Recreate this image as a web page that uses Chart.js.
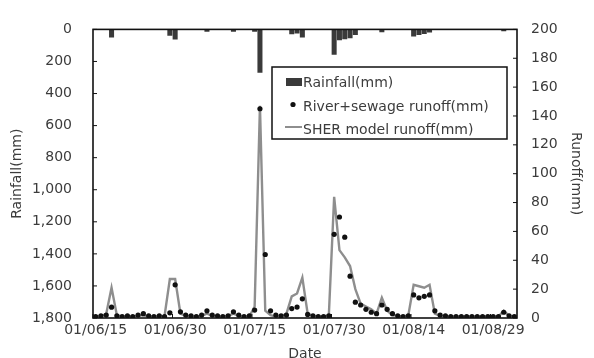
<!DOCTYPE html>
<html><head><meta charset="utf-8">
<script src="https://cdn.jsdelivr.net/npm/chart.js@4"></script>
<style>html,body{margin:0;padding:0;background:#fff;overflow:hidden}#wrap{width:594px;height:358px}</style>
</head><body><div id="wrap"><canvas id="c" width="594" height="358"></canvas></div>
<script>
const dates = [
 '01/06/15','01/06/16','01/06/17','01/06/18','01/06/19','01/06/20','01/06/21','01/06/22','01/06/23','01/06/24',
 '01/06/25','01/06/26','01/06/27','01/06/28','01/06/29','01/06/30','01/07/01','01/07/02','01/07/03','01/07/04',
 '01/07/05','01/07/06','01/07/07','01/07/08','01/07/09','01/07/10','01/07/11','01/07/12','01/07/13','01/07/14',
 '01/07/15','01/07/16','01/07/17','01/07/18','01/07/19','01/07/20','01/07/21','01/07/22','01/07/23','01/07/24',
 '01/07/25','01/07/26','01/07/27','01/07/28','01/07/29','01/07/30','01/07/31','01/08/01','01/08/02','01/08/03',
 '01/08/04','01/08/05','01/08/06','01/08/07','01/08/08','01/08/09','01/08/10','01/08/11','01/08/12','01/08/13',
 '01/08/14','01/08/15','01/08/16','01/08/17','01/08/18','01/08/19','01/08/20','01/08/21','01/08/22','01/08/23',
 '01/08/24','01/08/25','01/08/26','01/08/27','01/08/28','01/08/29','01/08/30','01/08/31','01/09/01','01/09/02'
];
const dateTickLabels = ['01/06/15','01/06/30','01/07/15','01/07/30','01/08/14','01/08/29'];
const rainfallTicks = [0,200,400,600,800,1000,1200,1400,1600,1800];
const runoffTicks = [0,20,40,60,80,100,120,140,160,180,200];

const rainfall = [
 0,0,0,50,0,0,0,0,0,0,
 0,0,0,0,40,63,0,0,0,0,
 0,15,0,0,0,0,15,0,0,0,
 15,270,0,0,0,0,0,30,25,50,
 0,0,0,0,0,158,67,61,55,35,
 0,0,0,0,18,0,0,0,0,0,
 45,35,28,20,0,0,0,0,0,0,
 0,0,0,0,0,0,0,12,0,0
];
const observedRunoff = [
 1,1.5,2,7.5,1.5,1,1.5,1,2,3,
 1.5,1,1.5,1,3.6,23,4.3,2,1.5,1,
 2,5,2,1.5,1,1.5,4.3,2,1,1.5,
 5.5,145,44,5,2,1.5,2,6.5,7.6,13.3,
 2.5,1.5,1,1,1.5,58,70,56,29,11,
 9,6,4,3,9,6,3,1.5,1,1.5,
 16,14,15,16,5,2,1.5,1,1,1,
 1,1,1,1,1,1,1,4,1.5,1
];
const modelRunoff = [
 1,1,3,21,2,1,1,1,1.5,2,
 1,1,1,1.5,27,27,3,1.5,1,1,
 1.5,3,1.5,1,1,1.5,3,1.5,1,1,
 8,147,5,2,1,1,3,15,17,28,
 3,1.5,1,1,2,84,47,42,36,20,
 10,8,6,3,14,5,2,1.5,1,2,
 23,22,21,23,3,1.5,1,1,1,1,
 1,1,1,1,1,1,1,5,1.5,1
];

Chart.defaults.font.family = "'DejaVu Sans', sans-serif";
Chart.defaults.font.size = 14;
Chart.defaults.color = '#3c3c3c';

const framePlugin = {
  id: 'frame',
  afterDatasetsDraw(chart) {
    const {ctx, chartArea: a, scales} = chart;
    ctx.save();
    ctx.strokeStyle = '#111';
    ctx.lineWidth = 1.6;
    ctx.strokeRect(a.left, a.top, a.right - a.left, a.bottom - a.top);
    ctx.lineWidth = 1;
    ctx.beginPath();
    scales.y.ticks.forEach((t, i) => {
      const p = scales.y.getPixelForTick(i);
      ctx.moveTo(a.left, p); ctx.lineTo(a.left + 4, p);
    });
    scales.y1.ticks.forEach((t, i) => {
      const p = scales.y1.getPixelForTick(i);
      ctx.moveTo(a.right - 4, p); ctx.lineTo(a.right, p);
    });
    const half = (scales.x.getPixelForValue(1) - scales.x.getPixelForValue(0)) / 2;
    dates.forEach((d, i) => {
      if (dateTickLabels.includes(d)) {
        const p = scales.x.getPixelForValue(i) - half;
        ctx.moveTo(p, a.bottom); ctx.lineTo(p, a.bottom - 4);
      }
    });
    ctx.stroke();
    ctx.restore();
  },
  afterDraw(chart) {
    const {ctx} = chart;
    const ds = chart.data.datasets;
    const bx = 272, by = 67, bw = 235, bh = 72;
    ctx.save();
    ctx.fillStyle = '#fff';
    ctx.fillRect(bx, by, bw, bh);
    ctx.strokeStyle = '#111';
    ctx.lineWidth = 1.5;
    ctx.strokeRect(bx, by, bw, bh);
    ctx.font = "14px 'DejaVu Sans', sans-serif";
    ctx.fillStyle = '#3c3c3c';
    ctx.textBaseline = 'middle';
    ctx.textAlign = 'left';
    const rain = ds.find(d => d.type === 'bar');
    const obs = ds.find(d => d.showLine === false);
    const mod = ds.find(d => d.type === 'line' && d.showLine !== false);
    // row 1
    ctx.fillStyle = rain.backgroundColor;
    ctx.fillRect(286, 78, 16, 8);
    ctx.fillStyle = '#3c3c3c';
    ctx.fillText(rain.label, 303, 83);
    // row 2
    ctx.fillStyle = obs.pointBackgroundColor;
    ctx.beginPath(); ctx.arc(293, 104.5, 2.6, 0, Math.PI * 2); ctx.fill();
    ctx.fillStyle = '#3c3c3c';
    ctx.fillText(obs.label, 303, 107);
    // row 3
    ctx.strokeStyle = mod.borderColor;
    ctx.lineWidth = 2;
    ctx.beginPath(); ctx.moveTo(285, 127); ctx.lineTo(302, 127); ctx.stroke();
    ctx.fillStyle = '#3c3c3c';
    ctx.fillText(mod.label, 303, 130);
    ctx.restore();
  }
};

new Chart(document.getElementById('c'), {
  data: {
    labels: dates,
    datasets: [
      {type: 'line', label: 'River+sewage runoff(mm)', data: observedRunoff, yAxisID: 'y1',
       showLine: false, pointRadius: 2.6, pointBackgroundColor: '#111', pointBorderColor: '#111',
       pointBorderWidth: 0, order: 0},
      {type: 'line', label: 'SHER model runoff(mm)', data: modelRunoff, yAxisID: 'y1',
       borderColor: '#8e8e8e', borderWidth: 2.4, pointRadius: 0, tension: 0, order: 1},
      {type: 'bar', label: 'Rainfall(mm)', data: rainfall, yAxisID: 'y',
       backgroundColor: '#3a3a3a', barPercentage: 0.95, categoryPercentage: 1, order: 2}
    ]
  },
  options: {
    responsive: false,
    animation: false,
    layout: {padding: {top: 22, right: 0, bottom: 0, left: 0}},
    plugins: {legend: {display: false}, tooltip: {enabled: false}},
    scales: {
      x: {
        type: 'category',
        grid: {display: false, drawTicks: false},
        border: {display: false},
        ticks: {
          autoSkip: false, maxRotation: 0, minRotation: 0, padding: 4,
          callback: function(v, i) { return dateTickLabels.includes(dates[i]) ? dates[i] : ''; }
        },
        title: {display: true, text: 'Date', padding: {top: 0, bottom: -5}},
        afterFit: s => { s.height = 40; }
      },
      y: {
        position: 'left', reverse: true, min: 0, max: 1800,
        afterBuildTicks: s => { s.ticks = rainfallTicks.map(v => ({value: v})); },
        ticks: {padding: 21, callback: v => Number(v).toLocaleString('en-US')},
        grid: {display: false, drawTicks: false},
        border: {display: false},
        title: {display: true, text: 'Rainfall(mm)', padding: {top: 9, bottom: 0}},
        afterFit: s => { s.width = 93; }
      },
      y1: {
        position: 'right', min: 0, max: 200,
        afterBuildTicks: s => { s.ticks = runoffTicks.map(v => ({value: v})); },
        ticks: {padding: 14},
        grid: {display: false, drawTicks: false},
        border: {display: false},
        title: {display: true, text: 'Runoff(mm)', padding: {top: 9.6, bottom: 0}},
        afterFit: s => { s.width = 77; }
      }
    }
  },
  plugins: [framePlugin]
});
</script>
</body></html>
